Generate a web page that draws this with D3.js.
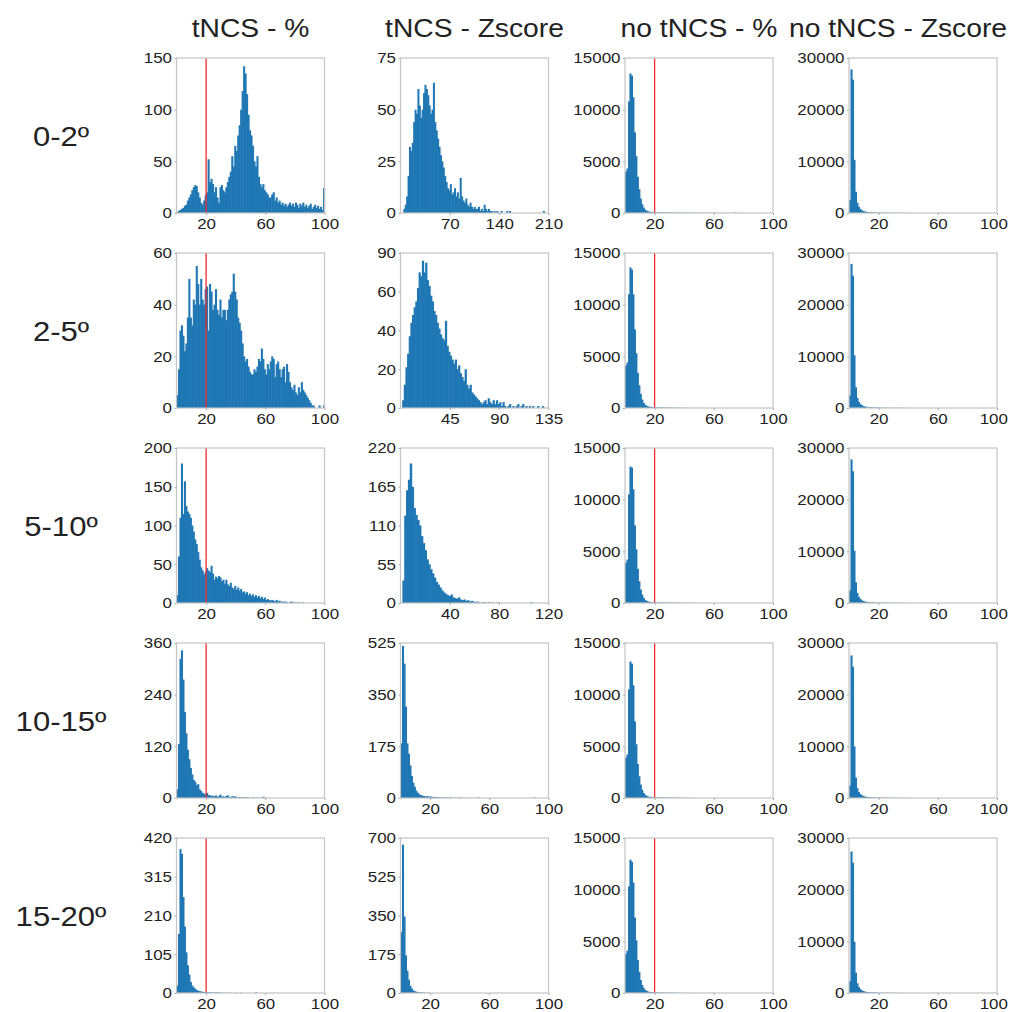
<!DOCTYPE html>
<html>
<head>
<meta charset="utf-8">
<script src="https://cdn.jsdelivr.net/npm/d3@7"></script>
<style>
body{margin:0;background:#fff;}
text{font-family:"Liberation Sans",Arial,sans-serif;fill:#222;}
</style>
</head>
<body>
<div id="chart"></div>
<script>
// titles
var colTitles=["tNCS - %","tNCS - Zscore","no tNCS - %","no tNCS - Zscore"];
var rowLabels=["0-2º","2-5º","5-10º","10-15º","15-20º"];

// bin counts (bin i = [i*bin, (i+1)*bin))
var tp_0_2=[1,2,3,4,5,7,8,12,15,18,22,25,27,26,20,15,10,8,12,17,20,52,30,33,28,20,25,15,10,25,27,22,20,25,30,35,40,55,45,65,60,75,85,100,118,142,135,115,95,80,75,65,50,45,55,35,28,25,28,22,20,18,15,15,18,20,12,15,10,12,8,10,7,9,6,8,10,7,9,6,10,8,5,9,7,10,6,8,5,7,9,4,6,8,5,7,4,6,3,24];
var tp_2_5=[5,15,30,32,28,22,25,35,50,35,32,42,40,55,48,40,50,42,40,46,47,30,48,45,38,40,46,38,36,42,35,38,38,34,38,42,44,45,52,45,42,35,33,30,25,20,18,19,16,14,13,13,15,14,16,19,18,23,19,15,13,17,15,18,20,19,12,17,18,15,12,15,16,10,17,14,10,8,7,9,6,5,8,6,10,7,6,5,4,3,2,1,1,0,0,0,1,0,0,1];
var tp_5_10=[10,60,110,180,115,157,125,118,115,110,100,92,82,76,66,56,46,42,37,40,45,42,40,48,38,30,34,32,35,33,28,30,25,30,24,22,26,20,18,22,17,20,16,18,14,15,12,14,10,12,9,11,8,10,7,9,6,8,5,7,4,5,4,3,4,3,2,4,2,3,1,2,1,2,1,0,1,2,1,0,1,0,1,0,0,1];
var tp_10_15=[20,125,323,343,275,200,150,112,90,70,55,42,38,30,32,20,16,12,10,8,12,7,6,5,5,4,6,3,4,8,3,4,2,5,6,3,2,4,3,4,2,1,2,1,2,1,1,2,1,1,0,1,1,0,1,0,1,0,3,1];
var tp_15_20=[20,160,390,377,260,180,110,75,50,30,20,15,12,8,6,5,4,3,3,2,2,2,1,2,1,1,2,1,1,1,0,1,0,1,0,0,1,0,0,1,0,0,0,1,0,0,0,0,0,0,0,0,0,2];

var tz_0_2=[0,0,2,4,8,18,32,30,34,44,50,48,60,52,46,50,58,62,60,57,52,48,50,63,44,40,36,32,28,25,22,18,15,12,11,14,9,10,12,8,10,7,17,8,6,5,7,4,3,5,3,2,3,2,2,3,1,2,1,4,2,1,2,1,1,0,1,0,1,0,0,1,0,0,0,1,0,1,0,0,0,0,0,0,0,0,0,0,0,0,0,0,0,0,0,0,0,0,0,0,0,1];
var tz_2_5=[0,4,12,21,28,37,44,48,52,55,62,70,68,76,70,75,66,63,58,55,50,48,44,41,38,36,35,45,32,29,27,25,23,25,20,22,18,16,14,20,12,10,12,8,7,6,5,4,3,2,3,4,2,5,3,2,4,2,4,2,3,1,3,1,0,1,2,0,1,0,1,2,0,1,2,0,1,0,1,0,1,0,0,1,0,0,1];
var tz_5_10=[0,32,124,160,175,198,165,135,125,118,110,95,85,75,62,55,48,42,36,30,26,22,18,15,13,11,10,12,8,7,6,8,5,4,5,3,4,2,3,2,1,2,1,0,1,1,0,1,0,1,0,0,1,0,0,0,0,0,0,0,0,0,0,0,0,0,0,0,0,0,1];
var tz_10_15=[185,515,455,310,185,150,110,75,52,38,25,18,13,10,8,7,6,5,6,4,5,3,4,3,2,3,2,1,2,1,2,1,1,2,1,0,1,1,0,1,2,0,1,0,0,1,0,0,0,0,0,0,2,0,0,0,0,0,0,0,0,0,0,0,0,0,0,0,0,0,0,0,0,0,0,0,0,0,0,0,0,0,0,0,0,0,0,0,0,0,2];
var tz_15_20=[275,670,345,170,100,60,32,20,12,8,6,4,3,3,2,2,1,1,1,1];

var np_0_2=[4000,4300,10800,13500,13300,11200,7800,5500,3500,2300,1400,850,520,330,220,160,120,95,80,70,60,55,50,48,45,42,40,44,38,35,40,36,33,30,34,28,30,26,28,25,27,22,24,20,22,18,20,16,18,15,17,14,15,12,14,11,13,10,12,9,11,8,10,7,9,6,8,5,7,5,6,4,5,4,60,3,4,3,2,3];
var np_2_5=[4100,4400,11000,13600,13400,11000,7600,5300,3400,2200,1350,820,500,320,210,150,115,90,78,68,58,52,48,45,42,40,38,36,34,32,30,28,26,24,22,20,18,16,15,14,13,12,11,10,9,8,7,6,5,5,4,4,3,3,2];
var np_5_10=[3900,4200,10500,13200,13100,11000,7500,5200,3300,2100,1300,800,480,310,200,145,110,88,75,65,55,50,46,43,40,38,36,34,32,30,28,26,24,22,20,18,16,15,14,13,12,11,10,9,8,7,6,5,5,4];
var np_10_15=[3900,4200,10500,13200,13000,10900,7400,5200,3300,2100,1300,800,480,310,200,145,110,88,75,65,55,50,46,43,40,38,36,34,32,30,28,26,24,22,20,18,16,15,14,13,12,11,10,9,8,7,6,5,5,4];
var np_15_20=[3800,4100,10300,12900,12700,10700,7300,5100,3200,2050,1250,780,470,300,195,140,105,85,72,62,53,48,44,41,38,36,34,32,30,28,26,24,22,20,18,16,15,14,13,12,11,10,9,8,7,6,5,5,4];

var nz_0_2=[2500,27800,25800,10300,4100,2000,1200,800,550,400,300,230,180,150,130,110,95,85,75,65,60,55,50,46,42,40,38,35,32,30,28,26,24,22,20,18,16,14,12,10,9,8,7,6,5,4,3,3,2,2];
var nz_2_5=[2400,27900,25600,10200,4000,1950,1180,790,540,390,290,225,175,145,125,108,92,82,72,63,58,53,48,44,40,38,36,33,30,28,26,24,22,20,18,16,14,12,10,9,8,7,6,5,4,3,3,2,2];
var nz_5_10=[2400,27800,25500,10100,4000,1950,1180,790,540,390,290,225,175,145,125,108,92,82,72,63,58,53,48,44,40,38,36,33,30,28,26,24,22,20,18,16,14,12,10,9,8,7,6,5,4,3,3,2,2];
var nz_10_15=[2400,27600,25400,10000,3950,1900,1150,780,530,385,285,220,172,142,122,105,90,80,70,62,57,52,47,43,40,37,35,32,30,28,26,24,22,20,18,16,14,12,10,9,8,7,6,5,4,3,3,2,2];
var nz_15_20=[2300,27400,25200,9900,3900,1880,1140,770,525,380,280,218,170,140,120,104,89,79,69,61,56,51,46,42,39,36,34,31,29,27,25,23,21,19,17,15,13,12,10,9,8,7,6,5,4,3,3,2,2];

var counts=[
  [tp_0_2,tz_0_2,np_0_2,nz_0_2],
  [tp_2_5,tz_2_5,np_2_5,nz_2_5],
  [tp_5_10,tz_5_10,np_5_10,nz_5_10],
  [tp_10_15,tz_10_15,np_10_15,nz_10_15],
  [tp_15_20,tz_15_20,np_15_20,nz_15_20]
];

// axes
var binW=[[1,2,1,1],[1,1.5,1,1],[1,1.5,1,1],[1,1,1,1],[1,1,1,1]];
var xMax=[[100,210,100,100],[100,135,100,100],[100,120,100,100],[100,100,100,100],[100,100,100,100]];
var xTicks=[
  [[20,60,100],[70,140,210],[20,60,100],[20,60,100]],
  [[20,60,100],[45,90,135],[20,60,100],[20,60,100]],
  [[20,60,100],[40,80,120],[20,60,100],[20,60,100]],
  [[20,60,100],[20,60,100],[20,60,100],[20,60,100]],
  [[20,60,100],[20,60,100],[20,60,100],[20,60,100]]
];
var yTicks=[
  [[0,50,100,150],[0,25,50,75],[0,5000,10000,15000],[0,10000,20000,30000]],
  [[0,20,40,60],[0,20,40,60,80],[0,5000,10000,15000],[0,10000,20000,30000]],
  [[0,50,100,150,200],[0,55,110,165,220],[0,5000,10000,15000],[0,10000,20000,30000]],
  [[0,120,240,360],[0,175,350,525],[0,5000,10000,15000],[0,10000,20000,30000]],
  [[0,105,210,315,420],[0,175,350,525,700],[0,5000,10000,15000],[0,10000,20000,30000]]
];
// the 2-5º z-score panel is labelled 90 at its top tick in the source
var yTickText={ "1,1":["0","20","40","60","90"] };
var redLine=[20,null,20,null];

var W=1009,H=1012;
var colX=[176.5,400.5,625,849], rowY=[58,253,448,643,838];
var pw=148, ph=155, sx=1.13, tickFs=15;

var svg=d3.select("#chart").append("svg").attr("width",W).attr("height",H);

function panel(r,c){
  var data=counts[r][c], bw=binW[r][c];
  var yt=yTicks[r][c];
  var x=d3.scaleLinear().domain([0,xMax[r][c]]).range([0,pw]);
  var y=d3.scaleLinear().domain([0,yt[yt.length-1]]).range([ph,0]);

  var g=svg.append("g").attr("transform","translate("+colX[c]+","+rowY[r]+")");

  g.selectAll("rect.bar").data(data).enter().append("rect")
    .attr("class","bar")
    .attr("x",function(d,i){return x(i*bw);})
    .attr("width",function(d,i){return x((i+1)*bw)-x(i*bw)+0.6;})
    .attr("y",function(d){return y(d);})
    .attr("height",function(d){return ph-y(d);})
    .attr("fill","#1f77b4");

  if(redLine[c]!=null){
    g.append("line")
      .attr("x1",x(redLine[c])).attr("x2",x(redLine[c]))
      .attr("y1",0).attr("y2",ph)
      .attr("stroke","#f0282d").attr("stroke-width",1.3);
  }

  g.append("rect").attr("width",pw).attr("height",ph)
    .attr("fill","none").attr("stroke","#c4c4c4").attr("stroke-width",1.2);

  var lab=yTickText[r+","+c];
  var ya=d3.axisLeft(y).tickValues(yt).tickSize(2).tickPadding(2)
    .tickFormat(function(d,i){return lab?lab[i]:d;});
  var ax=g.append("g").call(ya);
  ax.select(".domain").remove();
  ax.selectAll("line").attr("stroke","#aaa");
  ax.selectAll("text").attr("font-size",tickFs).attr("fill","#222")
    .attr("font-family","Liberation Sans, Arial, sans-serif")
    .attr("transform","scale("+sx+",1)");

  var xa=d3.axisBottom(x).tickValues(xTicks[r][c]).tickSize(2).tickPadding(3);
  var bx=g.append("g").attr("transform","translate(0,"+ph+")").call(xa);
  bx.select(".domain").remove();
  bx.selectAll("line").attr("stroke","#aaa");
  bx.selectAll("text").attr("font-size",tickFs).attr("fill","#222")
    .attr("font-family","Liberation Sans, Arial, sans-serif")
    .attr("transform","scale("+sx+",1)")
    .each(function(){
      // keep labels inside the page
      var b=this.getBoundingClientRect();
      if(b.right>W-1){ d3.select(this).attr("x",-(b.right-(W-1))/sx); }
    });
}

for(var r=0;r<5;r++){
  for(var c=0;c<4;c++){ panel(r,c); }
}

// column titles
colTitles.forEach(function(t,c){
  var cx=colX[c]+pw/2;
  var g=svg.append("g").attr("transform","translate("+cx+",37)");
  var tx=g.append("text").attr("text-anchor","middle").attr("font-size",25)
    .attr("transform","scale("+sx+",1)").text(t);
  var bb=tx.node().getBBox();
  var right=cx+bb.width*sx/2;
  if(right>W-2){ g.attr("transform","translate("+(cx-(right-(W-2)))+",37)"); }
});

// row labels
rowLabels.forEach(function(t,r){
  svg.append("g").attr("transform","translate(61,"+(rowY[r]+ph/2+10)+")")
    .append("text").attr("text-anchor","middle").attr("font-size",27.5)
    .attr("transform","scale("+sx+",1)").text(t);
});
</script>
</body>
</html>
